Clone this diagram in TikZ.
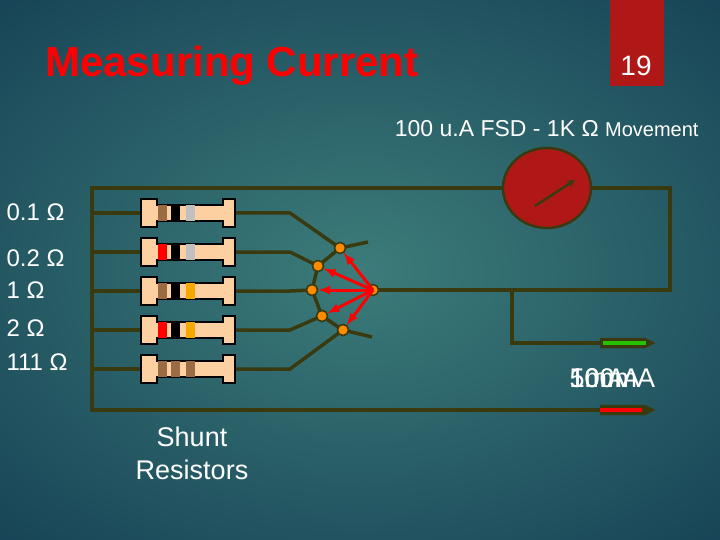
\documentclass[tikz,border=0pt]{standalone}
\usepackage{fontspec}
\usetikzlibrary{shapes.geometric}
\setmainfont{Liberation Sans}
\begin{document}
\begin{tikzpicture}[x=1pt,y=-1pt,
  wire/.style={draw=wirec,line width=3.5pt},
  band/.style={inner sep=0pt,minimum width=9pt,minimum height=16pt},
  contact/.style={circle,fill=orange!90!yellow,draw=wirec,line width=1.5pt,inner sep=0pt,minimum size=11pt},
  arr/.style={draw=red,line width=3pt,-latex},
  lbl/.style={text=white,anchor=west,font=\fontsize{24}{28}\selectfont}]
\definecolor{wirec}{HTML}{3A3A10}
\definecolor{skin}{HTML}{FDD0A2}
\definecolor{bgc}{HTML}{3C7C7A}
\definecolor{bgd}{HTML}{174456}
\definecolor{meterc}{HTML}{B01818}
\definecolor{bbrown}{HTML}{9B6B43}
\definecolor{bgray}{HTML}{C0C0C0}
\definecolor{borange}{HTML}{F7A800}
\useasboundingbox (0,0) rectangle (720,540);
\clip (0,0) rectangle (720,540);
\shade[inner color=bgc,outer color=bgd] (-180,-100) rectangle (900,640);
\node[fill=meterc,minimum width=54pt,minimum height=86pt,anchor=north west] (num) at (610,0) {};
\node[text=white,font=\fontsize{28}{32}\selectfont] at (636,66) {19};
\node[text=red,font=\bfseries\fontsize{42}{48}\selectfont] (title) at (232,66) {Measuring Current};
\node[text=white,anchor=east,font=\fontsize{23}{26}\selectfont] (sub) at (702,129) {100 u.A FSD - 1K Ω {\fontsize{20}{24}\selectfont Movement}};
% meter
\node[ellipse,draw=wirec,line width=2.5pt,fill=meterc,minimum width=88pt,minimum height=80pt,inner sep=0pt] (m) at (547,188) {};
\draw[wirec,line width=2.5pt,-stealth] (535,206) -- (575,180);
% wires
\coordinate (tl) at (92,188); \coordinate (bl) at (92,410);
\coordinate (tr) at (670,188); \coordinate (mr) at (670,290);
\coordinate (jn) at (512,290); \coordinate (gp) at (600,343); \coordinate (rp) at (600,410);
\coordinate (rot) at (373,290);
\draw[wire] (m.west) -- (tl) -- (bl) -- (rp);
\draw[wire] (m.east) -- (tr) -- (mr) -- (rot);
\draw[wire] (jn) -- (512,343) -- (gp);
% probes
\draw[fill=wirec,draw=wirec] (600,338) -- (645,338) -- (655,343) -- (645,348) -- (600,348) -- cycle;
\fill[green!70!black!80!lime] (603,341) rectangle (646,345);
\draw[fill=wirec,draw=wirec] (600,405) -- (645,405) -- (655,410) -- (645,415) -- (600,415) -- cycle;
\fill[red] (600,408) rectangle (642,412);
% switch
\coordinate (e1) at (368,242); \coordinate (e2) at (372,337);
\node[contact] (c1) at (340,248) {};
\node[contact] (c2) at (318,266) {};
\node[contact] (c3) at (312,290) {};
\node[contact] (c4) at (322,316) {};
\node[contact] (c5) at (343,330) {};
\draw[wirec,line width=3.5pt] (e1) -- (c1.center) -- (c2.center) -- (c3.center) -- (c4.center) -- (c5.center) -- (e2);
% resistors
\foreach \y/\bi/\bii/\biii [count=\i] in {213/bbrown/black/bgray,252/red/black/bgray,291/bbrown/black/borange,330/red/black/borange,369/bbrown/bbrown/bbrown}{
  \draw[wire] (92,\y) -- (140,\y);
  \draw[wire] (235,\y) -- (290,\y) -- (c\i.center);
  \draw[fill=skin,draw=black,line width=2pt] (141,\y-14) -- (157,\y-14) -- (157,\y-8) -- (223,\y-8) -- (223,\y-14) -- (235,\y-14) -- (235,\y+14) -- (223,\y+14) -- (223,\y+8) -- (157,\y+8) -- (157,\y+14) -- (141,\y+14) -- cycle;
  \node[band,fill=\bi] at (162,\y) {};
  \node[band,fill=\bii] at (175,\y) {};
  \node[band,fill=\biii] at (190,\y) {};
}
\foreach \i in {1,...,5} \node[contact] at (c\i) {};
\node[contact] (rc) at (rot) {};
\foreach \i in {1,...,5} \draw[arr] (rc.center) -- (c\i);
% labels
\node[lbl] at (3,212) {0.1 Ω};
\node[lbl] at (3,258) {0.2 Ω};
\node[lbl] at (3,290) {1 Ω};
\node[lbl] at (3,328) {2 Ω};
\node[lbl] at (3,362) {111 Ω};
\foreach \t in {500mA,10mA,1mA} \node[text=white,font=\fontsize{27}{30}\selectfont,anchor=west] at (566,378) {\t};
\node[text=white,align=center,font=\fontsize{27}{33}\selectfont] (sh) at (192,453) {Shunt\\Resistors};
\end{tikzpicture}
\end{document}
